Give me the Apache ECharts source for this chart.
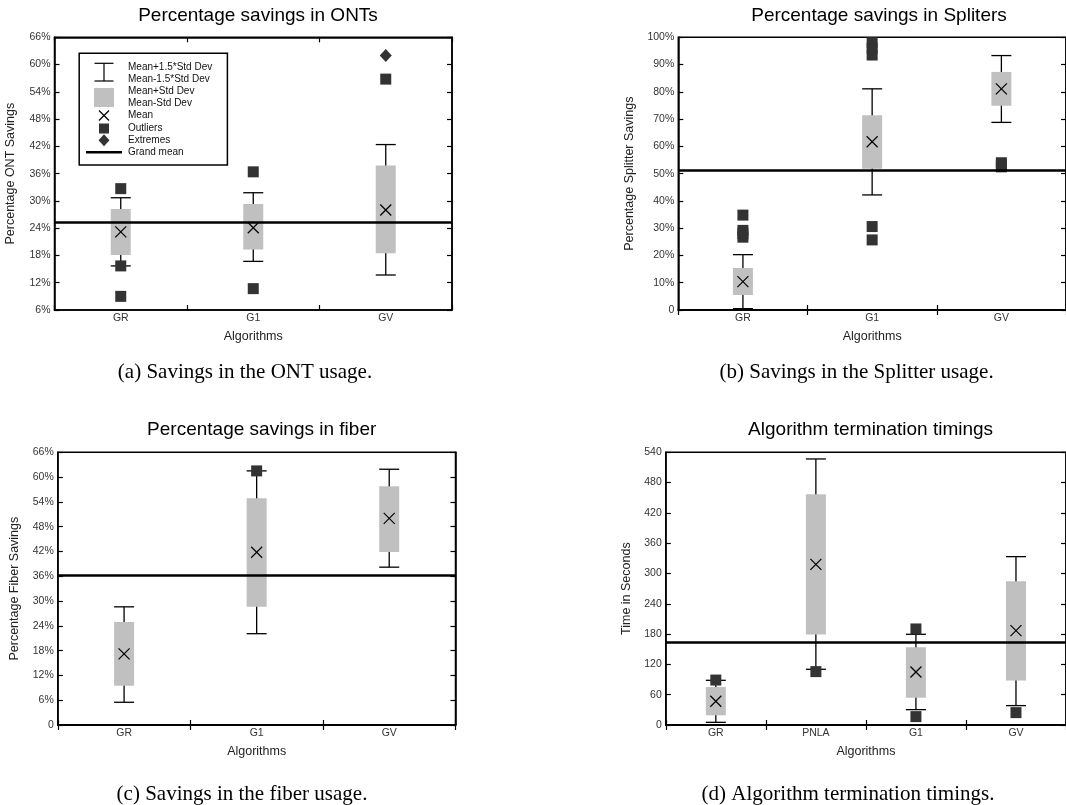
<!DOCTYPE html>
<html>
<head>
<meta charset="utf-8">
<script src="https://cdn.jsdelivr.net/npm/echarts@6/dist/echarts.min.js"></script>
<style>html,body{margin:0;padding:0;background:#fff;}#c{width:1066px;height:805px;}</style>
</head>
<body>
<div id="c"></div>
<script>
// ---------- data ----------
const catsABC = ['GR', 'G1', 'GV'];
const catsD = ['GR', 'PNLA', 'G1', 'GV'];

// stats per algorithm: [mean-1.5sd, mean-sd, mean, mean+sd, mean+1.5sd]
const ontStats = [[15.7, 18.1, 23.2, 28.2, 30.7], [16.7, 19.3, 24.1, 29.3, 31.8], [13.7, 18.5, 28.0, 37.8, 42.4]];
const ontOutliers = [[0, 32.7], [0, 15.7], [0, 9.0], [1, 36.4], [1, 10.7], [2, 56.8]];
const ontExtremes = [[2, 62.0]];
const ontGrandMean = 25.3;

const splitStats = [[0.5, 5.5, 10.4, 15.4, 20.3], [42.2, 51.8, 61.7, 71.4, 81.1], [68.8, 74.9, 81.1, 87.3, 93.3]];
const splitOutliers = [[0, 34.8], [0, 29.2], [0, 28.0], [0, 26.7], [1, 98.0], [1, 96.0], [1, 93.5], [1, 30.6], [1, 25.7], [2, 54.0], [2, 53.2], [2, 52.5]];
const splitGrandMean = 51.1;

const fiberStats = [[5.5, 9.5, 17.2, 24.9, 28.6], [22.1, 28.6, 41.8, 54.9, 61.5], [38.2, 41.9, 50.0, 57.8, 61.9]];
const fiberOutliers = [[1, 61.5]];
const fiberGrandMean = 36.3;

const timeStats = [[5.3, 19.2, 47, 75.3, 88.5], [110.3, 179, 318.2, 456.8, 526.8], [30.4, 54.2, 105, 153.9, 179.6], [38.4, 88, 187, 284.6, 333.4]];
const timeOutliers = [[0, 89], [1, 105.7], [2, 190.2], [2, 16.6], [3, 24.5]];
const timeGrandMean = 163.8;

const titles = ['Percentage savings in ONTs', 'Percentage savings in Spliters', 'Percentage savings in fiber', 'Algorithm termination timings'];
const captions = ['(a) Savings in the ONT usage.', '(b) Savings in the Splitter usage.', '(c) Savings in the fiber usage.', '(d) Algorithm termination timings.'];
const yNames = ['Percentage ONT Savings', 'Percentage Splitter Savings', 'Percentage Fiber Savings', 'Time in Seconds'];
const xName = 'Algorithms';
const legendTexts = ['Mean+1.5*Std Dev', 'Mean-1.5*Std Dev', 'Mean+Std Dev', 'Mean-Std Dev', 'Mean', 'Outliers', 'Extremes', 'Grand mean'];

// ---------- layout / style ----------
const SANS = 'Liberation Sans';
const SERIF = 'Liberation Serif';
const grids = [
  { left: 54.5, top: 37.3, width: 397.5, height: 272.7 },
  { left: 678.3, top: 37.3, width: 389, height: 272.7 },
  { left: 57.8, top: 452.3, width: 397.7, height: 272.7 },
  { left: 665.8, top: 452.3, width: 400.4, height: 272.7 }
];
const yRanges = [
  { min: 6, max: 66, interval: 6, fmt: v => v + '%' },
  { min: 0, max: 100, interval: 10, fmt: v => v === 0 ? '0' : v + '%' },
  { min: 0, max: 66, interval: 6, fmt: v => v === 0 ? '0' : v + '%' },
  { min: 0, max: 540, interval: 60, fmt: v => String(v) }
];
const yNameGaps = [37, 42, 37, 33];
const catsList = [catsABC, catsABC, catsABC, catsD];
const statsList = [ontStats, splitStats, fiberStats, timeStats];
const outList = [ontOutliers, splitOutliers, fiberOutliers, timeOutliers];
const grandList = [ontGrandMean, splitGrandMean, fiberGrandMean, timeGrandMean];

const BOX_HALF = 10, CAP_HALF = 10, CROSS = 5.5;

function renderBox(params, api) {
  const i = api.value(0);
  const pLw = api.coord([i, api.value(1)]);
  const pBl = api.coord([i, api.value(2)]);
  const pM = api.coord([i, api.value(3)]);
  const pBh = api.coord([i, api.value(4)]);
  const pHw = api.coord([i, api.value(5)]);
  const x = pM[0];
  const ls = { stroke: '#000', lineWidth: 1.3 };
  return {
    type: 'group',
    children: [
      { type: 'line', shape: { x1: x, y1: pLw[1], x2: x, y2: pHw[1] }, style: ls },
      { type: 'line', shape: { x1: x - CAP_HALF, y1: pHw[1], x2: x + CAP_HALF, y2: pHw[1] }, style: ls },
      { type: 'line', shape: { x1: x - CAP_HALF, y1: pLw[1], x2: x + CAP_HALF, y2: pLw[1] }, style: ls },
      { type: 'rect', shape: { x: x - BOX_HALF, y: pBh[1], width: BOX_HALF * 2, height: pBl[1] - pBh[1] }, style: { fill: '#c0c0c0' } },
      { type: 'line', shape: { x1: x - CROSS, y1: pM[1] - CROSS, x2: x + CROSS, y2: pM[1] + CROSS }, style: { stroke: '#000', lineWidth: 1.2 } },
      { type: 'line', shape: { x1: x - CROSS, y1: pM[1] + CROSS, x2: x + CROSS, y2: pM[1] - CROSS }, style: { stroke: '#000', lineWidth: 1.2 } }
    ]
  };
}

const option = {
  animation: false,
  backgroundColor: '#fff',
  title: [],
  grid: [],
  xAxis: [],
  yAxis: [],
  series: [],
  graphic: []
};

const titleCenters = [[253, 1], [874, 1], [256.7, 415], [865.6, 415]];
const captionCenters = [[240, 356.5], [851.6, 356.5], [237, 778.5], [843, 778.5]];

for (let g = 0; g < 4; g++) {
  option.grid.push(Object.assign({ show: true, borderColor: '#000', borderWidth: 1.5, backgroundColor: 'transparent', containLabel: false }, grids[g]));
  option.title.push({
    text: titles[g], left: titleCenters[g][0], top: titleCenters[g][1], textAlign: 'center',
    textStyle: { fontFamily: SANS, fontSize: 19, fontWeight: 'normal', color: '#000' }
  });
  option.title.push({
    text: captions[g], left: captionCenters[g][0], top: captionCenters[g][1], textAlign: 'center',
    textStyle: { fontFamily: SERIF, fontSize: 21, fontWeight: 'normal', color: '#000' }
  });
  const tick = { show: true, inside: true, length: 5, lineStyle: { color: '#000', width: 1.2 } };
  const aLine = { show: true, lineStyle: { color: '#000', width: 1.5 } };
  // bottom x
  option.xAxis.push({
    type: 'category', gridIndex: g, data: catsList[g], position: 'bottom',
    axisLine: aLine, axisTick: tick, splitLine: { show: false },
    axisLabel: { margin: 3, fontFamily: SANS, fontSize: 10.5, color: '#333' },
    name: xName, nameLocation: 'middle', nameGap: 20,
    nameTextStyle: { fontFamily: SANS, fontSize: 12.5, color: '#222' }
  });
  // top x (mirror ticks)
  option.xAxis.push({
    type: 'category', gridIndex: g, data: catsList[g], position: 'top',
    axisLine: aLine, axisTick: tick, axisLabel: { show: false }, splitLine: { show: false }
  });
  const yr = yRanges[g];
  option.yAxis.push({
    type: 'value', gridIndex: g, min: yr.min, max: yr.max, interval: yr.interval, position: 'left',
    axisLine: aLine, axisTick: tick, splitLine: { show: false },
    axisLabel: { margin: 4, fontFamily: SANS, fontSize: 10.5, color: '#333', formatter: yr.fmt },
    name: yNames[g], nameLocation: 'middle', nameGap: yNameGaps[g], nameRotate: 90,
    nameTextStyle: { fontFamily: SANS, fontSize: 12.5, color: '#222' }
  });
  option.yAxis.push({
    type: 'value', gridIndex: g, min: yr.min, max: yr.max, interval: yr.interval, position: 'right',
    axisLine: aLine, axisTick: tick, axisLabel: { show: false }, splitLine: { show: false }
  });
  const xi = g * 2, yi = g * 2;
  option.series.push({
    type: 'custom', xAxisIndex: xi, yAxisIndex: yi, z: 2,
    renderItem: renderBox,
    encode: { x: 0, y: [1, 2, 3, 4, 5] },
    data: statsList[g].map((s, i) => [i].concat(s))
  });
  option.series.push({
    type: 'scatter', xAxisIndex: xi, yAxisIndex: yi, z: 3,
    symbol: 'rect', symbolSize: 11,
    itemStyle: { color: '#333', opacity: 1 },
    data: outList[g],
    markLine: {
      silent: true, symbol: ['none', 'none'], animation: false,
      label: { show: false },
      lineStyle: { color: '#000', width: 2.5, type: 'solid' },
      emphasis: { disabled: true },
      data: [{ yAxis: grandList[g] }]
    }
  });
}
option.series.push({
  type: 'scatter', xAxisIndex: 0, yAxisIndex: 0, z: 3,
  symbol: 'diamond', symbolSize: [12, 13],
  itemStyle: { color: '#333', opacity: 1 },
  data: ontExtremes
});

// legend of chart (a), drawn with graphic primitives
const LX = 104;
const rowY = [67.5, 79.5, 91.5, 103, 115.5, 128.5, 140.2, 152.2];
const legendChildren = [
  { type: 'rect', shape: { x: 79.2, y: 53.3, width: 148.2, height: 111.7 }, style: { fill: '#fff', stroke: '#000', lineWidth: 1.5 } },
  { type: 'line', shape: { x1: LX, y1: 63.3, x2: LX, y2: 81 }, style: { stroke: '#000', lineWidth: 1.2 } },
  { type: 'line', shape: { x1: LX - 9.5, y1: 63.3, x2: LX + 9.5, y2: 63.3 }, style: { stroke: '#000', lineWidth: 1.2 } },
  { type: 'line', shape: { x1: LX - 9.5, y1: 81, x2: LX + 9.5, y2: 81 }, style: { stroke: '#000', lineWidth: 1.2 } },
  { type: 'rect', shape: { x: LX - 10, y: 88, width: 20, height: 19 }, style: { fill: '#c0c0c0' } },
  { type: 'line', shape: { x1: LX - 5, y1: rowY[4] - 5, x2: LX + 5, y2: rowY[4] + 5 }, style: { stroke: '#000', lineWidth: 1.2 } },
  { type: 'line', shape: { x1: LX - 5, y1: rowY[4] + 5, x2: LX + 5, y2: rowY[4] - 5 }, style: { stroke: '#000', lineWidth: 1.2 } },
  { type: 'rect', shape: { x: LX - 5, y: rowY[5] - 5, width: 10, height: 10 }, style: { fill: '#333' } },
  { type: 'polygon', shape: { points: [[LX, rowY[6] - 6], [LX + 5.5, rowY[6]], [LX, rowY[6] + 6], [LX - 5.5, rowY[6]]] }, style: { fill: '#333' } },
  { type: 'line', shape: { x1: 86, y1: rowY[7], x2: 122, y2: rowY[7] }, style: { stroke: '#000', lineWidth: 2.5 } }
];
legendTexts.forEach((t, k) => {
  legendChildren.push({
    type: 'text', x: 128, y: rowY[k],
    style: { text: t, fontFamily: SANS, fontSize: 10, fill: '#111', verticalAlign: 'middle', align: 'left' }
  });
});
option.graphic.push({ type: 'group', z: 100, children: legendChildren });

const chart = echarts.init(document.getElementById('c'), null, { renderer: 'canvas' });
chart.setOption(option);
</script>
</body>
</html>
